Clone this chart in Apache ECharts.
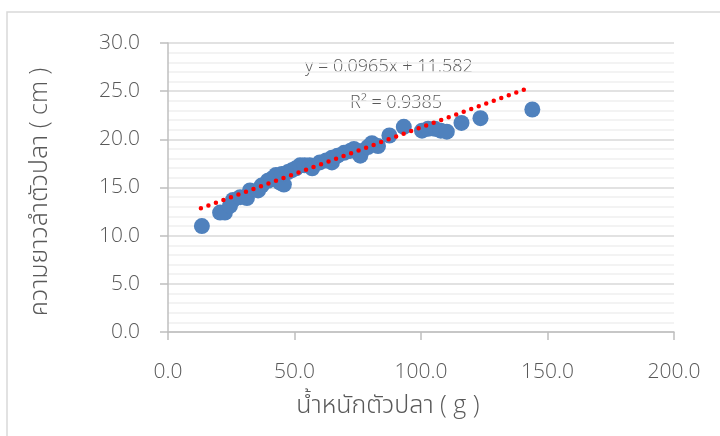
<!DOCTYPE html>
<html><head><meta charset="utf-8">
<script src="https://cdn.jsdelivr.net/npm/echarts@6/dist/echarts.min.js"></script>
<style>html,body{margin:0;padding:0;background:#fff}#c{width:720px;height:436px}</style>
</head><body><div id="c"></div>
<script>
const weight = [13.4,20.6,22.5,24.5,25.7,28.5,31.2,32.4,35.6,37,39.5,41,42.7,44.3,45.8,45,47.4,49,50.6,52.2,54,56,57,60,62.5,64.8,64.8,67,69.6,72,73.5,76,76.7,79,80.6,83,87.5,93.2,100.4,102.8,105.5,107.8,110.2,116,123.5,144];
const length = [11.0,12.4,12.4,13.1,13.7,14.0,13.9,14.7,14.7,15.2,15.7,15.9,16.3,15.5,15.3,16.4,16.6,16.8,17.0,17.3,17.3,17.3,17.0,17.6,17.8,17.6,18.1,18.3,18.6,18.8,19.0,18.3,18.8,19.2,19.6,19.3,20.4,21.3,20.9,21.1,21.1,20.9,20.8,21.7,22.2,23.1];
const trendSlope = 0.0965, trendIntercept = 11.582;
const trendRange = [13, 143];
const xTicks = [0,50,100,150,200];
const yTicks = [0,5,10,15,20,25,30];
const eqText = 'y = 0.0965x + 11.582';
const r2Text = 'R² = 0.9385';
const xName = 'น้ำหนักตัวปลา ( g )';
const yName = 'ความยาวลำตัวปลา ( cm )';

const FONT = "'Open Sans','Noto Sans Thai','Noto Sans',sans-serif";
const GRAY = '#595959';
const chart = echarts.init(document.getElementById('c'));
chart.setOption({
  animation:false,
  grid:{left:168,right:46,top:43,bottom:104},
  xAxis:{type:'value',min:xTicks[0],max:xTicks[xTicks.length-1],interval:50,
    axisLine:{show:true,lineStyle:{color:'#bfbfbf',width:1.5}},
    axisTick:{show:true,length:8,lineStyle:{color:'#bfbfbf',width:1.5}},
    splitLine:{show:false},
    axisLabel:{margin:30,color:GRAY,fontFamily:FONT,fontWeight:300,fontSize:21,formatter:v=>v.toFixed(1)}},
  yAxis:{type:'value',min:yTicks[0],max:yTicks[yTicks.length-1],interval:5,
    axisLine:{show:true,lineStyle:{color:'#bfbfbf',width:1.5}},
    axisTick:{show:true,length:8,lineStyle:{color:'#bfbfbf',width:1.5}},
    splitLine:{show:true,lineStyle:{color:'#d9d9d9',width:1.5}},
    minorTick:{show:false,splitNumber:5},
    minorSplitLine:{show:true,lineStyle:{color:'#f0f0f0',width:1.5}},
    axisLabel:{margin:28,color:GRAY,fontFamily:FONT,fontWeight:300,fontSize:21,formatter:v=>v.toFixed(1)}},
  series:[
    {type:'scatter',data:weight.map((w,i)=>[w,length[i]]),symbolSize:16,
     itemStyle:{color:'#4f81bd',opacity:1},z:2},
    {type:'line',data:trendRange.map(x=>[x,trendSlope*x+trendIntercept]),symbol:'none',
     lineStyle:{color:'#ff0000',width:4.5,type:[0,8],cap:'round'},z:3}
  ],
  graphic:[
    {type:'rect',shape:{x:7,y:12,width:760,height:480},style:{fill:'none',stroke:'#d9d9d9',lineWidth:1.5},silent:true,z:-1},
    {type:'text',x:389,y:67,style:{text:eqText,fill:GRAY,font:"300 18px "+FONT,align:'center',verticalAlign:'middle'}},
    {type:'text',x:396,y:103,style:{text:r2Text,fill:GRAY,font:"300 18px "+FONT,align:'center',verticalAlign:'middle'}},
    {type:'text',x:388,y:406,style:{text:xName,fill:GRAY,font:"300 25px "+FONT,align:'center',verticalAlign:'middle'}},
    {type:'text',x:40,y:192,rotation:Math.PI/2,style:{text:yName,fill:GRAY,font:"300 25px "+FONT,align:'center',verticalAlign:'middle'}}
  ]
});
</script></body></html>
